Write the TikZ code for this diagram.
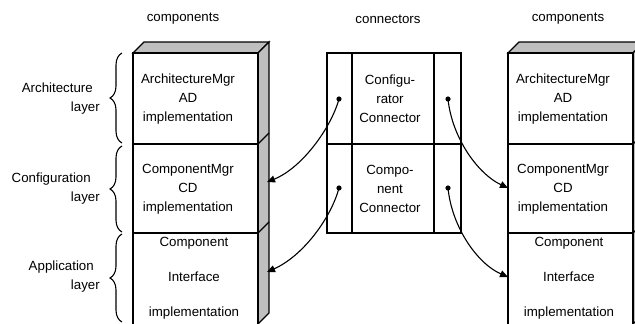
\documentclass[tikz,border=0pt]{standalone}
\usepackage{fontspec}
\setmainfont{Liberation Sans}
\usetikzlibrary{arrows.meta,decorations.pathreplacing}
\tikzset{
  lbl/.style={font=\fontsize{13.3}{19}\selectfont, inner sep=0pt, align=center},
  sidelbl/.style={lbl, align=right, anchor=east},
  edge/.style={line width=1.1pt},
  shade/.style={edge, fill=black!25},
  wire/.style={line width=1.1pt, -{Triangle[length=8pt,width=7pt]}},
  brc/.style={decorate, decoration={brace, amplitude=12pt}, line width=1.1pt}
}

\begin{document}
\begin{tikzpicture}[x=1pt,y=-1pt]
			\clip (0,0) rectangle (635,324);
			
			%%%%% headings %%%%%
			\node[lbl] (hcompL) at (183,19) {components};
			\node[lbl] (hconn) at (388,19) {connectors};
			\node[lbl] (hcompR) at (568,19) {components};
			
			%%%%% layer braces %%%%%
			\draw[brc] (122,143) -- (122,53);
			\draw[brc] (122,232) -- (122,146);
			\draw[brc] (122,322) -- (122,234);
			\node[sidelbl] (larch) at (100,99) {Architecture\kern7pt\\layer};
			\node[sidelbl] (lconf) at (100,189) {Configuration\kern9pt\\layer};
			\node[sidelbl] (lappl) at (100,277) {Application\kern6pt\\layer};
			
			%%%%% component stacks %%%%%
			\foreach \x/\n in {133/L,508/R} {
				\draw[shade] (\x,53) -- (\x+11,42) -- (\x+136,42) -- (\x+125,53) -- cycle;
				\draw[shade] (\x+125,53) -- (\x+136,42) -- (\x+136,313) -- (\x+125,324) -- cycle;
				\draw[edge] (\x+125,144) -- (\x+136,133) (\x+125,233) -- (\x+136,222);
				\draw[edge] (\x,330) -- (\x,53) -- (\x+125,53) -- (\x+125,330);
				\draw[edge] (\x,144) -- (\x+125,144) (\x,233) -- (\x+125,233);
				\node[lbl] (arch\n) at (\x+55,99) {ArchitectureMgr\\AD\\implementation};
				\node[lbl] (cmgr\n) at (\x+55,189) {ComponentMgr\\CD\\implementation};
				\node[lbl, font=\fontsize{13.3}{35}\selectfont] (intf\n) at (\x+61,278) {Component\\Interface\\implementation};
			}
			\coordinate (cdL) at (267,182);
			\coordinate (ifL) at (267,272);
			\coordinate (cdR) at (508,188);
			\coordinate (ifR) at (508,277);
			
			%%%%% connectors %%%%%
			\draw[edge] (327,53) rectangle (461,233);
			\draw[edge] (352,53) -- (352,233) (434,53) -- (434,233) (327,144) -- (461,144);
			\node[lbl] (cfg) at (390,99) {Configu-\\rator\\Connector};
			\node[lbl] (cmp) at (390,189) {Compo-\\nent\\Connector};
			
			\coordinate (cfgL) at (339,99);
			\coordinate (cmpL) at (339,188);
			\coordinate (cfgR) at (448,99);
			\coordinate (cmpR) at (448,188);
			\foreach \p in {cfgL,cmpL,cfgR,cmpR}
				\fill (\p) circle (2.6);
			
			\draw[wire] (cfgL) .. controls (331,128) and (302,168) .. (cdL);
			\draw[wire] (cmpL) .. controls (331,218) and (303,256) .. (ifL);
			\draw[wire] (cfgR) .. controls (452,138) and (478,174) .. (cdR);
			\draw[wire] (cmpR) .. controls (452,228) and (478,264) .. (ifR);
\end{tikzpicture}
\end{document}
